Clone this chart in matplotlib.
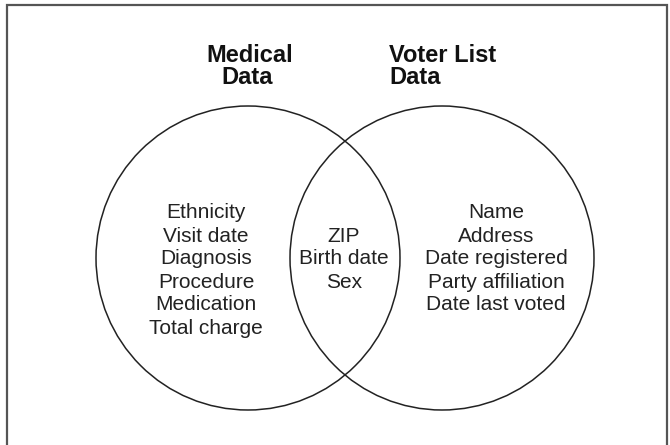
import matplotlib
matplotlib.use("Agg")
import matplotlib.pyplot as plt
from matplotlib.patches import Circle

plt.rcParams['font.family'] = ['Liberation Sans', 'DejaVu Sans']

# data
medical_only = ["Ethnicity", "Visit date", "Diagnosis", "Procedure",
                "Medication", "Total charge"]
shared = ["ZIP", "Birth date", "Sex"]
voter_only = ["Name", "Address", "Date registered", "Party affiliation",
              "Date last voted"]

# layout (pixel units, y down)
W, H = 670, 445
R = 152
LEFT_C = (248, 258)
RIGHT_C = (442, 258)
LINE_H = 23

fig = plt.figure(figsize=(W / 100, H / 100), dpi=100)
ax = fig.add_axes([0, 0, 1, 1])
ax.set_xlim(0, W)
ax.set_ylim(H, 0)
ax.set_aspect('equal')
ax.axis('off')

# frame (no bottom edge, it runs off the picture)
ax.plot([7, 7, 667, 667], [H + 5, 5, 5, H + 5], color='#555555', lw=1.6,
        solid_joinstyle='miter')

for c in (LEFT_C, RIGHT_C):
    ax.add_patch(Circle(c, R, fill=False, ec='#222222', lw=1.1))

title_kw = dict(fontsize=17, fontweight='bold', color='#111111', va='center')
ax.text(250, 55, "Medical", ha='center', **title_kw)
ax.text(221, 78, "Data", ha='left', **title_kw)
ax.text(389, 55, "Voter List", ha='left', **title_kw)
ax.text(389, 78, "Data", ha='left', **title_kw)


def column(labels, x, y0):
    for i, s in enumerate(labels):
        ax.text(x, y0 + i * LINE_H, s, ha='center', va='center',
                fontsize=15, color='#222222')


column(medical_only, 206, 213)
column(shared, 344, 236)
column(voter_only, 496, 213)

fig.savefig("out.png", dpi=100)
